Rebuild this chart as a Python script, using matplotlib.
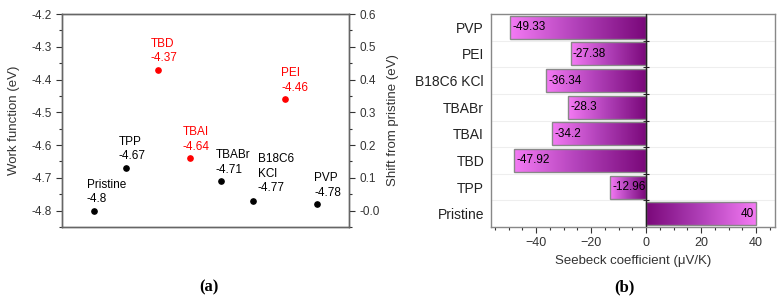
import numpy as np
import matplotlib
matplotlib.use('Agg')
import matplotlib.pyplot as plt
from matplotlib.colors import LinearSegmentedColormap
from matplotlib.ticker import MultipleLocator

plt.rcParams['font.family'] = ['Liberation Sans', 'DejaVu Sans']
plt.rcParams['font.size'] = 8

# panel (a) data
wf_labels = ['Pristine', 'TPP', 'TBD', 'TBAI', 'TBABr', 'B18C6\nKCl', 'PEI', 'PVP']
wf_values = [-4.8, -4.67, -4.37, -4.64, -4.71, -4.77, -4.46, -4.78]
wf_red = [False, False, True, True, False, False, True, False]
wf_dx = [-5, -5, -5, -5, -4, 3, -3, -2]   # label offsets in points
wf_dy = [4, 4, 4, 4, 4, 5, 4, 4]

# panel (b) data
sb_labels = ['Pristine', 'TPP', 'TBD', 'TBAI', 'TBABr', 'B18C6 KCl', 'PEI', 'PVP']
sb_values = [40, -12.96, -47.92, -34.2, -28.3, -36.34, -27.38, -49.33]
sb_text = ['40', '-12.96', '-47.92', '-34.2', '-28.3', '-36.34', '-27.38', '-49.33']

fig = plt.figure(figsize=(7.84, 3.0), dpi=100)

# ---------- (a) ----------
ax1 = fig.add_axes([0.0791, 0.2433, 0.3661, 0.71])
xs = np.arange(1, len(wf_values) + 1)
for x, v, lab, red, dx, dy in zip(xs, wf_values, wf_labels, wf_red, wf_dx, wf_dy):
    col = '#ff0000' if red else 'black'
    ax1.plot(x, v, 'o', color=col, ms=3.8)
    ax1.annotate('{}\n{}'.format(lab, v), (x, v), xytext=(dx, dy),
                 textcoords='offset points', ha='left', va='bottom',
                 color=col, fontsize=8.5, linespacing=1.25)
ax1.set_xlim(0, 9)
ax1.set_ylim(-4.85, -4.2)
ax1.set_xticks([])
ax1.yaxis.set_minor_locator(MultipleLocator(0.05))
ticks_l = np.arange(-4.8, -4.19, 0.1)
ax1.set_yticks(ticks_l)
ax1.set_yticklabels(['{:.1f}'.format(t) for t in ticks_l])
ax1.tick_params(axis='y', which='major', length=4, width=0.8, labelsize=8.5, colors='#333333')
ax1.tick_params(axis='y', which='minor', length=2, width=0.8, colors='#333333')
for s in ax1.spines.values():
    s.set_color('#666666')
    s.set_linewidth(1.0)
ax1.set_ylabel('Work function (eV)', fontsize=9.5, color='#333333', labelpad=8)

ax1r = ax1.twinx()
ax1r.set_ylim(-0.05, 0.6)
ax1r.yaxis.set_minor_locator(MultipleLocator(0.05))
ticks_r = np.arange(0, 0.61, 0.1)
ax1r.set_yticks(ticks_r)
ax1r.set_yticklabels(['-0.0'] + ['{:.1f}'.format(t) for t in ticks_r[1:]])
ax1r.tick_params(axis='y', which='major', length=4, width=0.8, labelsize=8.5, colors='#333333')
ax1r.tick_params(axis='y', which='minor', length=2, width=0.8, colors='#333333')
for s in ax1r.spines.values():
    s.set_color('#666666')
    s.set_linewidth(1.0)
ax1r.set_ylabel('Shift from pristine (eV)', fontsize=9.5, color='#333333', labelpad=5)

fig.text(0.266, 0.03, '(a)', fontsize=12, fontweight='bold',
         family=['Liberation Serif'], ha='center')

# ---------- (b) ----------
ax2 = fig.add_axes([0.6263, 0.2433, 0.3622, 0.71])
ys = np.arange(len(sb_values))
xmin, xmax = -56.4, 46.9
ax2.set_xlim(xmin, xmax)
ax2.set_ylim(-0.5, len(sb_values) - 0.5)
cmap = LinearSegmentedColormap.from_list('pk', ['#7a087a', '#b040b8', '#f47af4'])
grad = np.linspace(0, 1, 256).reshape(1, -1)
bars = ax2.barh(ys, sb_values, height=0.86, color='none', edgecolor='#888888',
                linewidth=1.0, zorder=3)
for b, v in zip(bars, sb_values):
    x0, y0 = b.get_x(), b.get_y()
    w, h = b.get_width(), b.get_height()
    left, right = min(x0, x0 + w), max(x0, x0 + w)
    g = grad if v > 0 else grad[:, ::-1]
    im = ax2.imshow(g, extent=(left, right, y0, y0 + h), cmap=cmap,
                    aspect='auto', zorder=2, interpolation='bicubic')
    im.set_clip_path(b)
for y, v, t in zip(ys, sb_values, sb_text):
    if v < 0:
        ax2.text(v + 0.8, y, t, ha='left', va='center', fontsize=8.5, zorder=4)
    else:
        ax2.text(v - 0.8, y, t, ha='right', va='center', fontsize=8.5, zorder=4)
ax2.axvline(0, color='#222222', lw=1.0, zorder=4)
for yb in np.arange(0.5, len(sb_values) - 0.5, 1):
    ax2.axhline(yb, color='#eeeeee', lw=0.8, zorder=0)
ax2.set_yticks(ys)
ax2.set_yticklabels(sb_labels, fontsize=10, color='#222222')
ax2.tick_params(axis='y', length=0, pad=5)
ax2.xaxis.set_major_locator(MultipleLocator(20))
ax2.xaxis.set_minor_locator(MultipleLocator(5))
ax2.tick_params(axis='x', which='major', length=4, width=0.8, labelsize=9, colors='#333333')
ax2.tick_params(axis='x', which='minor', length=2, width=0.8, colors='#333333')
for s in ax2.spines.values():
    s.set_color('#888888')
    s.set_linewidth(1.0)
ax2.set_xlabel('Seebeck coefficient (\u03bcV/K)', fontsize=9.5, color='#333333', labelpad=4)

sec = ax2.secondary_yaxis((0 - xmin) / (xmax - xmin))
sec.set_yticks(np.arange(0.5, len(sb_values) - 0.5, 1))
sec.set_yticklabels([])
sec.tick_params(axis='y', direction='inout', length=4, width=0.8, colors='#222222')
sec.spines['left'].set_visible(False)

fig.text(0.797, 0.03, '(b)', fontsize=12, fontweight='bold',
         family=['Liberation Serif'], ha='center')

fig.savefig('out.png', dpi=100)
